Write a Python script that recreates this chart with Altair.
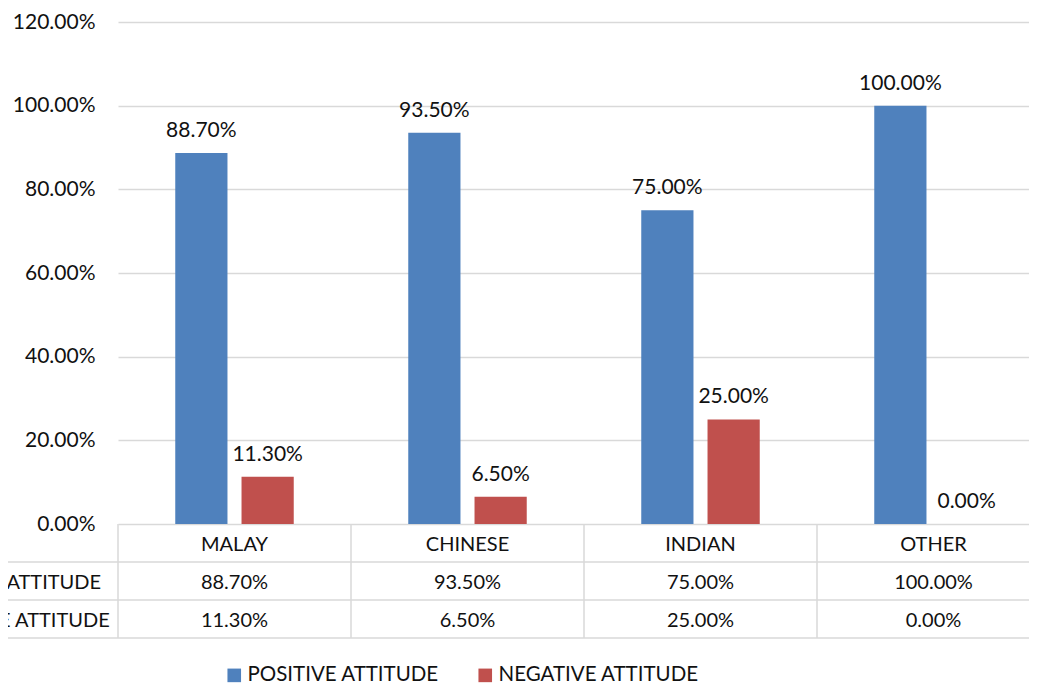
import altair as alt
import pandas as pd

categories = ["MALAY", "CHINESE", "INDIAN", "OTHER"]
series = ["POSITIVE ATTITUDE", "NEGATIVE ATTITUDE"]
positive = [0.887, 0.935, 0.75, 1.0]
negative = [0.113, 0.065, 0.25, 0.0]
y_ticks = [0, 0.2, 0.4, 0.6, 0.8, 1.0, 1.2]
colors = ["#4f81bd", "#c0504d"]

FONT = "Lato"
TXT = "#111111"
GRID = "#d9d9d9"

rows = []
for c, p, n in zip(categories, positive, negative):
    rows.append({"cat": c, "series": series[0], "value": p})
    rows.append({"cat": c, "series": series[1], "value": n})
df = pd.DataFrame(rows)
tbl = pd.DataFrame({"cat": categories, "pos": positive, "neg": negative})
row_lbl = pd.DataFrame({"label": series})

W, H = 932, 502

x = alt.X("cat:N", sort=categories, axis=None,
          scale=alt.Scale(paddingInner=0, paddingOuter=0))
xo = alt.XOffset("series:N", sort=series,
                 scale=alt.Scale(paddingInner=0.212, paddingOuter=0.864))
y = alt.Y("value:Q", title=None,
          scale=alt.Scale(domain=[0, 1.2], nice=False),
          axis=alt.Axis(values=y_ticks, format=".2%", grid=True, gridColor=GRID,
                        gridWidth=1.5, domain=False, ticks=False,
                        labelFontSize=21, labelPadding=23, labelColor=TXT,
                        labelFont=FONT))
color = alt.Color("series:N", sort=series,
                  scale=alt.Scale(domain=series, range=colors),
                  legend=alt.Legend(title=None, orient="none", direction="horizontal",
                                    legendX=106, legendY=643, symbolType="square",
                                    symbolSize=185, symbolStrokeWidth=0,
                                    labelFontSize=20.5, labelFont=FONT, labelColor=TXT,
                                    labelLimit=0, labelOffset=3, columnPadding=36))

bars = alt.Chart(df).mark_bar().encode(x=x, xOffset=xo, y=y, color=color)

labels = alt.Chart(df).mark_text(baseline="alphabetic", dy=-16, fontSize=21,
                                 font=FONT, color=TXT).encode(
    x=x, xOffset=xo, y=y, text=alt.Text("value:Q", format=".2%"))

xc = alt.X("cat:N", sort=categories, axis=None)
xb = alt.X("cat:N", sort=categories, axis=None, bandPosition=0)

# data table under the plot
vlines = alt.Chart(tbl).mark_rule(color=GRID, strokeWidth=1.5).encode(
    x=xb, y=alt.value(H), y2=alt.value(H + 114))

one = pd.DataFrame({"r": [1]})
hlines = []
for yy in [H + 38, H + 76, H + 114]:
    hlines.append(alt.Chart(one).mark_rule(color=GRID, strokeWidth=1.5).encode(
        x=alt.value(-130), x2=alt.value(W), y=alt.value(yy)))

txt_kw = dict(fontSize=20, font=FONT, color=TXT, baseline="middle")
cat_txt = alt.Chart(tbl).mark_text(**txt_kw).encode(
    x=xc, y=alt.value(H + 21), text="cat:N")
pos_txt = alt.Chart(tbl).mark_text(**txt_kw).encode(
    x=xc, y=alt.value(H + 59), text=alt.Text("pos:Q", format=".2%"))
neg_txt = alt.Chart(tbl).mark_text(**txt_kw).encode(
    x=xc, y=alt.value(H + 97), text=alt.Text("neg:Q", format=".2%"))

row_pos = alt.Chart(row_lbl.head(1)).mark_text(align="left", **txt_kw).encode(
    x=alt.value(-203), y=alt.value(H + 59), text="label:N")
row_neg = alt.Chart(row_lbl.tail(1)).mark_text(align="left", **txt_kw).encode(
    x=alt.value(-203), y=alt.value(H + 97), text="label:N")

chart = alt.layer(bars, labels, vlines, *hlines, cat_txt, pos_txt, neg_txt,
                  row_pos, row_neg).properties(
    width=W, height=H,
    background="white",
    autosize=alt.AutoSizeParams(type="none"),
    padding={"left": 110, "top": 14, "right": -21, "bottom": 161},
).configure_view(stroke=None).configure_axis(domain=False)

chart.save("out.html", embed_options={"renderer": "svg", "actions": False})
